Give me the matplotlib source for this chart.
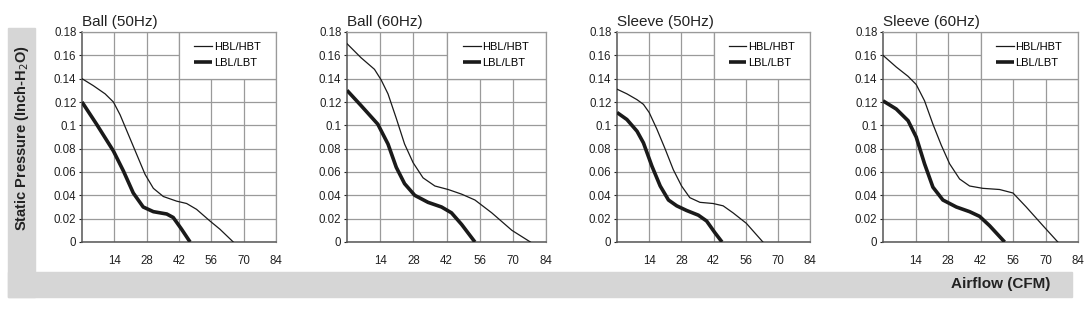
import numpy as np
import matplotlib
matplotlib.use("Agg")
import matplotlib.pyplot as plt
from matplotlib.patches import Rectangle

plt.rcParams['font.family'] = ['Liberation Sans', 'DejaVu Sans']

#### data #####
titles = ['Ball (50Hz)', 'Ball (60Hz)', 'Sleeve (50Hz)', 'Sleeve (60Hz)']
series_labels = ['HBL/HBT', 'LBL/LBT']

# Ball (50Hz)
ball50_hbl_x = [0, 4.9, 10.0, 13.6, 16.5, 20.1, 23.7, 27.3, 30.9, 35.2, 41, 45.3, 49.6, 55.4, 59.7, 65.5]
ball50_hbl_y = [0.140, 0.134, 0.127, 0.120, 0.109, 0.092, 0.075, 0.058, 0.046, 0.039, 0.035, 0.033, 0.028, 0.018, 0.011, 0]
ball50_lbl_x = [0, 6.3, 13.6, 17.9, 22.2, 26.5, 30.9, 36.7, 39.5, 43.1, 46.8]
ball50_lbl_y = [0.120, 0.101, 0.078, 0.061, 0.042, 0.030, 0.026, 0.024, 0.021, 0.011, 0]

# Ball (60Hz)
ball60_hbl_x = [0, 5.9, 11.6, 14.4, 17.3, 20.8, 24.3, 27.9, 32.1, 37.1, 42.7, 48.4, 54, 61.1, 69.6, 77.4]
ball60_hbl_y = [0.170, 0.158, 0.148, 0.139, 0.127, 0.106, 0.084, 0.068, 0.055, 0.048, 0.045, 0.041, 0.036, 0.025, 0.010, 0]
ball60_lbl_x = [0, 5.9, 13, 17.3, 20.8, 24.3, 28.6, 34.2, 39.9, 44.1, 48.4, 54]
ball60_lbl_y = [0.130, 0.117, 0.101, 0.084, 0.064, 0.050, 0.040, 0.034, 0.030, 0.025, 0.015, 0]

# Sleeve (50Hz)
sleeve50_hbl_x = [0, 4.3, 8.7, 11.5, 14, 17.3, 20.9, 24.5, 28.1, 31.7, 36.1, 41.8, 46.2, 50.5, 56.3, 63.5]
sleeve50_hbl_y = [0.131, 0.127, 0.122, 0.118, 0.111, 0.097, 0.080, 0.062, 0.048, 0.038, 0.034, 0.033, 0.031, 0.025, 0.016, 0]
sleeve50_lbl_x = [0, 4.3, 8.7, 11.5, 15.2, 18.8, 22.4, 26, 30.3, 35.4, 39, 42.6, 45.7]
sleeve50_lbl_y = [0.111, 0.105, 0.095, 0.085, 0.065, 0.048, 0.036, 0.031, 0.027, 0.023, 0.018, 0.008, 0]

# Sleeve (60Hz)
sleeve60_hbl_x = [0, 5.7, 10.8, 14.3, 17.9, 21.5, 25.1, 28.7, 33, 37.3, 43, 50.2, 56, 61.7, 68.9, 75.3]
sleeve60_hbl_y = [0.160, 0.150, 0.142, 0.135, 0.121, 0.101, 0.083, 0.067, 0.054, 0.048, 0.046, 0.045, 0.042, 0.030, 0.014, 0]
sleeve60_lbl_x = [0, 5.7, 10.8, 14.3, 17.9, 21.5, 25.8, 31.6, 37.3, 41.6, 45.9, 52.4]
sleeve60_lbl_y = [0.121, 0.114, 0.104, 0.090, 0.067, 0.047, 0.036, 0.030, 0.026, 0.022, 0.014, 0]

panels = [
    (ball50_hbl_x, ball50_hbl_y, ball50_lbl_x, ball50_lbl_y),
    (ball60_hbl_x, ball60_hbl_y, ball60_lbl_x, ball60_lbl_y),
    (sleeve50_hbl_x, sleeve50_hbl_y, sleeve50_lbl_x, sleeve50_lbl_y),
    (sleeve60_hbl_x, sleeve60_hbl_y, sleeve60_lbl_x, sleeve60_lbl_y),
]

x_ticks = [14, 28, 42, 56, 70, 84]
y_ticks = [0, 0.02, 0.04, 0.06, 0.08, 0.1, 0.12, 0.14, 0.16, 0.18]
y_tick_labels = ['0', '0.02', '0.04', '0.06', '0.08', '0.1', '0.12', '0.14', '0.16', '0.18']

#### figure #####
W, H = 1089, 309
fig = plt.figure(figsize=(W / 100, H / 100), dpi=100)

band = '#d6d6d6'
# L-shaped grey band behind the axis titles
fig.patches.append(Rectangle((8 / W, 1 - 297 / H), 27 / W, 269 / H,
                             transform=fig.transFigure, color=band, zorder=0))
fig.patches.append(Rectangle((8 / W, 1 - 297 / H), 1064 / W, 25 / H,
                             transform=fig.transFigure, color=band, zorder=0))

grid_c = '#9a9a9a'
lefts = [82, 347, 617, 883]
rights = [276, 546, 810, 1078]
top, bottom = 32, 242

for i, (hx, hy, lx, ly) in enumerate(panels):
    ax = fig.add_axes([lefts[i] / W, 1 - bottom / H, (rights[i] - lefts[i]) / W, (bottom - top) / H])
    ax.set_axisbelow(True)
    ax.grid(True, color=grid_c, linewidth=0.9)
    # white box for legend, covering the grid
    ax.add_patch(Rectangle((0.5, 0.7778), 0.5, 0.2222, transform=ax.transAxes,
                           facecolor='white', edgecolor=grid_c, linewidth=0.9, zorder=1))
    ax.plot(hx, hy, color='#1a1a1a', linewidth=0.9, label=series_labels[0],
            solid_joinstyle='round', zorder=3)
    ax.plot(lx, ly, color='#1a1a1a', linewidth=2.6, label=series_labels[1],
            solid_capstyle='butt', solid_joinstyle='round', zorder=3)
    ax.set_xlim(0, 84)
    ax.set_ylim(0, 0.18)
    ax.set_xticks(x_ticks)
    ax.set_yticks(y_ticks)
    ax.set_yticklabels(y_tick_labels)
    ax.tick_params(axis='x', length=0, pad=9, labelsize=8.3, colors='#222222')
    ax.tick_params(axis='y', length=2, pad=2, labelsize=8.3, colors='#222222')
    for s in ['top', 'right']:
        ax.spines[s].set_color(grid_c)
        ax.spines[s].set_linewidth(0.9)
    for s in ['left', 'bottom']:
        ax.spines[s].set_color('#555555')
        ax.spines[s].set_linewidth(1.1)
    ax.set_title(titles[i], loc='left', fontsize=11, pad=4, color='#222222')
    ax.legend(loc='center', bbox_to_anchor=(0.5, 0.7778, 0.5, 0.2222), frameon=False,
              fontsize=8, handlelength=1.6, handletextpad=0.15, labelspacing=0.55,
              borderpad=0.2)

fig.text(22 / W, 1 - 138 / H, 'Static Pressure (Inch-H$_2$O)', rotation=90,
         ha='center', va='center', fontsize=10.5, fontweight='bold', color='#222222')
fig.text(1050 / W, 1 - 284 / H, 'Airflow (CFM)', ha='right', va='center',
         fontsize=11, fontweight='bold', color='#222222')

fig.savefig('out.png', dpi=100)
